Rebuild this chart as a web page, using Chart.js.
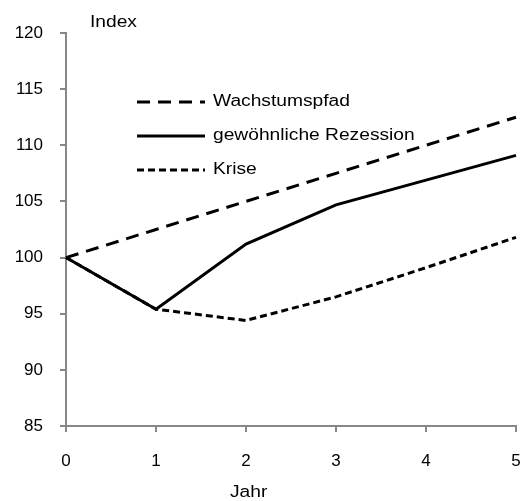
<!DOCTYPE html>
<html>
<head>
<meta charset="utf-8">
<script src="https://cdn.jsdelivr.net/npm/chart.js@4.4.0/dist/chart.umd.min.js"></script>
<style>
  html, body { margin: 0; padding: 0; background: #fff; }
  #wrap { width: 524px; height: 501px; }
</style>
</head>
<body>
<div id="wrap"><canvas id="chart" width="524" height="501"></canvas></div>
<script>
const years = ['0', '1', '2', '3', '4', '5'];
const wachstum = [100, 102.5, 105, 107.5, 110, 112.5];
const rezession = [100, 95.4, 101.2, 104.7, 106.9, 109.1];
const krise = [100, 95.4, 94.4, 96.5, 99.1, 101.8];
const yTicks = [85, 90, 95, 100, 105, 110, 115, 120];

const FONT = "'Liberation Sans', Arial, sans-serif";
const axisGray = '#878787';

// text in the reference is a bit stretched sideways
function wideText(ctx, str, x, y) {
    ctx.save();
    ctx.translate(x, y);
    ctx.scale(1.2, 1);
    ctx.fillText(str, 0, 0);
    ctx.restore();
}

// legend + axis captions drawn on top of the chart
const extras = {
    id: 'extras',
    afterDraw(chart) {
        const ctx = chart.ctx;
        ctx.save();
        ctx.fillStyle = '#000';
        ctx.font = '16px ' + FONT;
        ctx.textBaseline = 'middle';
        ctx.textAlign = 'left';
        wideText(ctx, 'Index', 90, 23);
        wideText(ctx, 'Jahr', 230, 493);

        const rows = [102, 136, 170];
        chart.data.datasets.forEach((ds, i) => {
            const y = rows[i];
            ctx.beginPath();
            ctx.setLineDash(ds.borderDash || []);
            ctx.lineWidth = ds.borderWidth;
            ctx.strokeStyle = ds.borderColor;
            ctx.moveTo(137, y);
            ctx.lineTo(205, y);
            ctx.stroke();
            ctx.setLineDash([]);
            wideText(ctx, ds.label, 213, y);
        });
        ctx.restore();
    }
};

const ctx = document.getElementById('chart').getContext('2d');
window.myChart = new Chart(ctx, {
    type: 'line',
    data: {
        labels: years,
        datasets: [
            { label: 'Wachstumspfad', data: wachstum, borderColor: '#000', borderWidth: 3, borderDash: [13, 8] },
            { label: 'gewöhnliche Rezession', data: rezession, borderColor: '#000', borderWidth: 3 },
            { label: 'Krise', data: krise, borderColor: '#000', borderWidth: 3, borderDash: [7, 4] }
        ]
    },
    options: {
        responsive: false,
        animation: false,
        elements: { point: { radius: 0 }, line: { tension: 0, fill: false } },
        layout: { padding: { top: 33, right: 8, left: 0, bottom: 0 } },
        plugins: { legend: { display: false }, tooltip: { enabled: false } },
        scales: {
            x: {
                offset: false,
                grid: { drawOnChartArea: false, drawTicks: true, tickLength: 6, color: axisGray, lineWidth: 2 },
                border: { display: true, color: axisGray, width: 2 },
                ticks: { color: '#000', font: { family: FONT, size: 17 }, padding: 19, maxRotation: 0 },
                afterFit(scale) {
                    scale.height = 75;
                    scale.paddingLeft = 0;
                    scale.paddingRight = 0;
                }
            },
            y: {
                min: 85,
                max: 120,
                afterBuildTicks(scale) { scale.ticks = yTicks.map(v => ({ value: v })); },
                grid: { drawOnChartArea: false, drawTicks: true, tickLength: 6, color: axisGray, lineWidth: 2 },
                border: { display: true, color: axisGray, width: 2 },
                ticks: { color: '#000', font: { family: FONT, size: 17 }, padding: 17 },
                afterFit(scale) {
                    scale.width = 66;
                    scale.paddingTop = 0;
                    scale.paddingBottom = 0;
                }
            }
        }
    },
    plugins: [extras]
});
</script>
</body>
</html>
